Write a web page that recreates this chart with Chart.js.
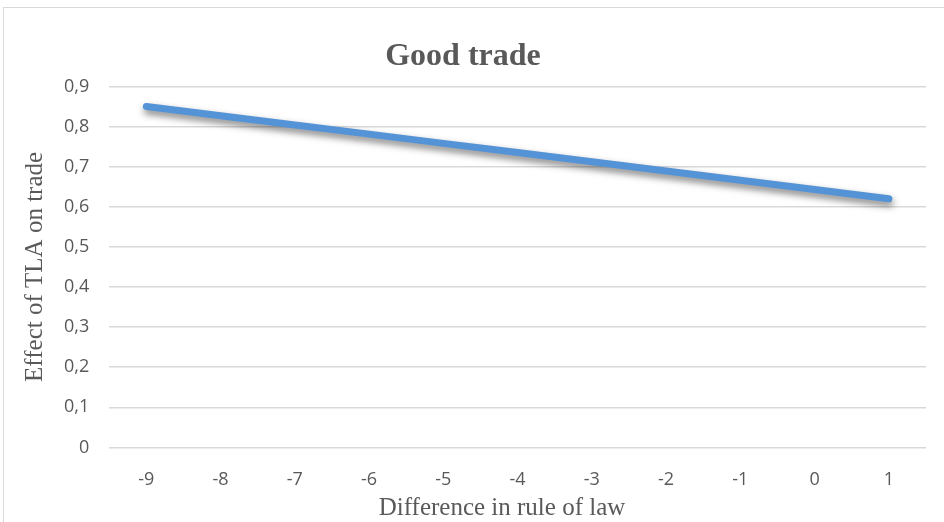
<!DOCTYPE html>
<html>
<head>
<meta charset="utf-8">
<script src="https://cdn.jsdelivr.net/npm/chart.js@4/dist/chart.umd.min.js"></script>
<style>
  html, body { margin: 0; padding: 0; background: #fff; overflow: hidden; }
  #wrap { position: relative; width: 944px; height: 522px; }
  #frame { position: absolute; left: 3px; top: 7px; width: 1000px; height: 600px;
           border: 1px solid #d9d9d9; box-sizing: border-box; }
  canvas { position: absolute; left: 0; top: 0; }
</style>
</head>
<body>
<div id="wrap">
  <div id="frame"></div>
  <canvas id="c" width="944" height="522"></canvas>
</div>
<script>
// Rule-of-law gap categories and the estimated effect of a TLA on trade
const ruleOfLawDiff = ['-9', '-8', '-7', '-6', '-5', '-4', '-3', '-2', '-1', '0', '1'];
const tlaEffect = [0.85, 0.827, 0.804, 0.781, 0.758, 0.735, 0.712, 0.689, 0.666, 0.643, 0.62];
const yTicks = [0, 0.1, 0.2, 0.3, 0.4, 0.5, 0.6, 0.7, 0.8, 0.9];
const xAxisTitle = 'Difference in rule of law';

const grey = '#595959';
const serif = '"Liberation Serif", "Times New Roman", serif';
const sans = '"Open Sans", "Liberation Sans", sans-serif';

// soft drop shadow under the line
const lineShadow = {
  id: 'lineShadow',
  beforeDatasetDraw(chart) {
    const ctx = chart.ctx;
    ctx.save();
    ctx.shadowColor = 'rgba(0,0,0,0.5)';
    ctx.shadowBlur = 7;
    ctx.shadowOffsetX = 1;
    ctx.shadowOffsetY = 4;
  },
  afterDatasetDraw(chart) {
    chart.ctx.restore();
  }
};

// centre the chart title and the x-axis caption on the whole frame, not the plot
const frameCentred = {
  id: 'frameCentred',
  afterLayout(chart) {
    if (chart.titleBlock) {
      chart.titleBlock.left = 0;
      chart.titleBlock.right = 926;
    }
  },
  afterDraw(chart) {
    const ctx = chart.ctx;
    ctx.save();
    ctx.fillStyle = grey;
    ctx.font = '25px ' + serif;
    ctx.textAlign = 'center';
    ctx.textBaseline = 'middle';
    ctx.fillText(xAxisTitle, 502, 508);
    ctx.restore();
  }
};

new Chart(document.getElementById('c'), {
  type: 'line',
  data: {
    labels: ruleOfLawDiff,
    datasets: [{
      data: tlaEffect,
      borderColor: '#5593d7',
      borderWidth: 7,
      borderCapStyle: 'round',
      borderJoinStyle: 'round',
      pointRadius: 0,
      tension: 0,
      fill: false
    }]
  },
  options: {
    responsive: false,
    animation: false,
    devicePixelRatio: 1,
    layout: { padding: { left: 20, right: 18, top: 38, bottom: 9 } },
    plugins: {
      legend: { display: false },
      tooltip: { enabled: false },
      title: {
        display: true,
        text: 'Good trade',
        color: grey,
        font: { family: serif, size: 32, weight: 'bold' },
        padding: { top: 0, bottom: 10 }
      }
    },
    scales: {
      x: {
        offset: true,
        grid: { display: false, drawTicks: false },
        border: { display: false },
        ticks: {
          color: grey,
          font: { family: sans, size: 18 },
          padding: 22
        },
        title: { display: false }
      },
      y: {
        min: 0,
        max: 0.9,
        afterBuildTicks(axis) { axis.ticks = yTicks.map(v => ({ value: v })); },
        grid: { color: '#d9d9d9', lineWidth: 1.5, drawTicks: false },
        border: { display: false },
        ticks: {
          color: grey,
          font: { family: sans, size: 18 },
          padding: 20,
          callback: v => String(Math.round(v * 10) / 10).replace('.', ',')
        },
        title: {
          display: true,
          text: 'Effect of TLA on trade',
          color: grey,
          font: { family: serif, size: 25 },
          padding: { top: 0, bottom: -6 }
        }
      }
    }
  },
  plugins: [lineShadow, frameCentred]
});
</script>
</body>
</html>
